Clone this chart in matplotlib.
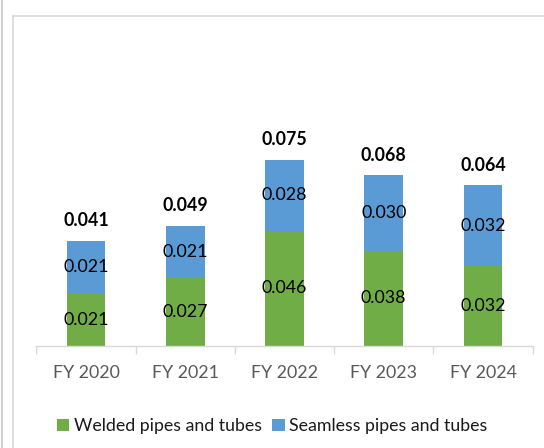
import matplotlib
matplotlib.use("Agg")
import matplotlib.pyplot as plt
from matplotlib.lines import Line2D
from matplotlib.patches import Patch
import numpy as np

categories = ["FY 2020", "FY 2021", "FY 2022", "FY 2023", "FY 2024"]
welded = [0.021, 0.027, 0.046, 0.038, 0.032]
seamless = [0.021, 0.021, 0.028, 0.030, 0.032]
totals = [0.041, 0.049, 0.075, 0.068, 0.064]
series_names = ["Welded pipes and tubes", "Seamless pipes and tubes"]

GREEN = "#70AD47"
BLUE = "#5B9BD5"

plt.rcParams['font.family'] = ['Lato', 'DejaVu Sans']

W, H = 544, 448
fig = plt.figure(figsize=(W / 100, H / 100), dpi=100)

# axes placement in pixels
x0, x1 = 36.4, 532.6
y_base, y_top = 346.0, 145.2
ax = fig.add_axes([x0 / W, (H - y_base) / H, (x1 - x0) / W, (y_base - y_top) / H])

x = np.arange(len(categories))
bw = 0.39
ax.bar(x, welded, bw, color=GREEN, label=series_names[0], zorder=2)
ax.bar(x, seamless, bw, bottom=welded, color=BLUE, label=series_names[1], zorder=2)

fs = 12.8
for i in range(len(categories)):
    ax.text(x[i], welded[i] / 2, f"{welded[i]:.3f}", ha="center", va="center",
            fontsize=fs, color="black")
    ax.text(x[i], welded[i] + seamless[i] / 2, f"{seamless[i]:.3f}", ha="center",
            va="center", fontsize=fs, color="black")
    ax.annotate(f"{totals[i]:.3f}", (x[i], welded[i] + seamless[i]),
                xytext=(0, 8.5), textcoords="offset points", ha="center",
                va="bottom", fontsize=fs, fontweight="bold", color="black")

ax.set_xlim(-0.5, len(categories) - 0.5)
ax.set_ylim(0, 0.08)
ax.set_yticks([])
ax.set_xticks(x)
ax.set_xticklabels(categories, fontsize=fs, color="#595959")
ax.tick_params(axis="x", which="major", length=0, pad=14)
ax.set_xticks(np.arange(len(categories) + 1) - 0.5, minor=True)
ax.tick_params(axis="x", which="minor", length=5.8, width=1.0, color="#D9D9D9")
for s in ["top", "right", "left"]:
    ax.spines[s].set_visible(False)
ax.spines["bottom"].set_color("#D9D9D9")
ax.spines["bottom"].set_linewidth(1.0)

# legend
handles = [Patch(facecolor=GREEN, edgecolor="none"), Patch(facecolor=BLUE, edgecolor="none")]
fig.legend(handles, series_names, loc="center", bbox_to_anchor=(0.5, 1 - 426 / H),
           ncol=2, frameon=False, fontsize=fs, handlelength=0.7, handleheight=0.7,
           handletextpad=0.25, columnspacing=0.6, labelcolor="#1A1A1A")

# frame lines
fig.add_artist(Line2D([1.7 / W, 1.7 / W], [0, 1], transform=fig.transFigure,
                      color="#CFCFCF", lw=1.5))
fig.add_artist(Line2D([12.8 / W, 12.8 / W], [0, 1 - 16.3 / H], transform=fig.transFigure,
                      color="#D9D9D9", lw=1.2))
fig.add_artist(Line2D([12.8 / W, 1], [1 - 16.3 / H, 1 - 16.3 / H], transform=fig.transFigure,
                      color="#D9D9D9", lw=1.2))

fig.savefig("out.png", dpi=100)
